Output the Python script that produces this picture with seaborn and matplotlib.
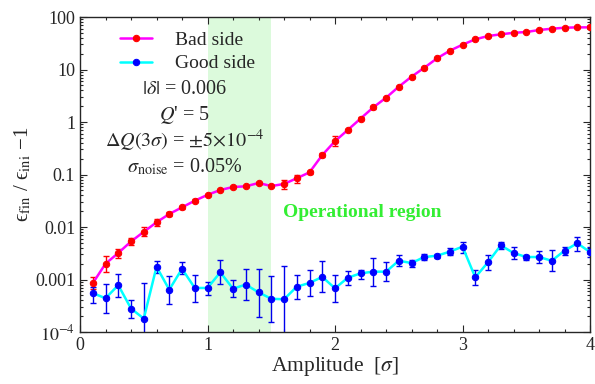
import matplotlib
matplotlib.use('Agg')

import numpy as np
import pandas as pd
import seaborn as sns
import matplotlib.pyplot as plt
from matplotlib.ticker import FixedLocator, LogLocator, MultipleLocator, NullFormatter

# amplitude in units of sigma
amp = [0.1, 0.2, 0.3, 0.4, 0.5, 0.6, 0.7, 0.8, 0.9, 1.0,
       1.1, 1.2, 1.3, 1.4, 1.5, 1.6, 1.7, 1.8, 1.9, 2.0,
       2.1, 2.2, 2.3, 2.4, 2.5, 2.6, 2.7, 2.8, 2.9, 3.0,
       3.1, 3.2, 3.3, 3.4, 3.5, 3.6, 3.7, 3.8, 3.9, 4.0]

bad = [0.00085, 0.0020, 0.0032, 0.0053, 0.0081, 0.0123, 0.0177, 0.0237, 0.0317, 0.041,
       0.0507, 0.0578, 0.0596, 0.0689, 0.0603, 0.066, 0.0848, 0.110, 0.235, 0.432,
       0.705, 1.16, 1.9, 2.9, 4.7, 7.3, 10.8, 16.3, 22.8, 29.7,
       37.6, 43.4, 46.8, 50.0, 51.8, 56.5, 59.8, 62.5, 63.5, 63.5]
bad_lo = [0.00065, 0.0014, 0.0026, 0.0045, 0.0067, 0.0104, 0.0165, 0.0225, 0.0300, 0.0390,
          0.0490, 0.0560, 0.0575, 0.0655, 0.0580, 0.0537, 0.0698, 0.103, 0.215, 0.354,
          0.67, 1.08, 1.80, 2.75, 4.5, 7.0, 10.4, 15.8, 22.1, 28.9,
          36.8, 42.5, 45.9, 49.0, 50.8, 55.4, 58.6, 61.3, 62.2, 62.2]
bad_hi = [0.00113, 0.0028, 0.0038, 0.0063, 0.0099, 0.0140, 0.0190, 0.0250, 0.0335, 0.0430,
          0.0525, 0.0595, 0.0615, 0.0725, 0.0625, 0.0777, 0.0990, 0.117, 0.255, 0.534,
          0.74, 1.24, 2.00, 3.05, 4.9, 7.6, 11.2, 16.8, 23.5, 30.5,
          38.4, 44.3, 47.7, 51.0, 52.8, 57.6, 61.0, 63.7, 64.8, 64.8]

good = [0.00055, 0.00044, 0.00078, 0.00028, 0.00018, 0.00175, 0.00064, 0.0016, 0.00069, 0.00069,
        0.00137, 0.00067, 0.00080, 0.00057, 0.00043, 0.00042, 0.00073, 0.00086, 0.00112, 0.00068,
        0.00108, 0.00131, 0.00141, 0.00141, 0.00228, 0.00206, 0.00268, 0.00284, 0.00339, 0.00422,
        0.0011, 0.00213, 0.00448, 0.0032, 0.00268, 0.00268, 0.00228, 0.00354, 0.0049, 0.00334]
good_lo = [0.00036, 0.000233, 0.00047, 0.000187, 0.00005, 0.00135, 0.00034, 0.00125, 0.00038, 0.00051,
           0.00082, 0.00046, 0.00041, 0.000196, 0.000157, 0.00005, 0.00042, 0.00048, 0.00057, 0.00037,
           0.00079, 0.00104, 0.00076, 0.00092, 0.00181, 0.00176, 0.00232, 0.0026, 0.00293, 0.00324,
           0.0008, 0.00152, 0.00381, 0.00242, 0.00235, 0.00203, 0.00145, 0.00293, 0.00354, 0.0027]
good_hi = [0.00071, 0.00081, 0.00125, 0.0004, 0.00087, 0.00222, 0.00118, 0.00212, 0.00124, 0.0009,
           0.00232, 0.00096, 0.0016, 0.00158, 0.00115, 0.00178, 0.00124, 0.0015, 0.00222, 0.00122,
           0.00147, 0.00154, 0.00253, 0.00212, 0.00288, 0.00239, 0.00306, 0.0031, 0.00393, 0.00518,
           0.00152, 0.00288, 0.00518, 0.00416, 0.00293, 0.00354, 0.0037, 0.00422, 0.00655, 0.0041]

op_region = (1.0, 1.5)
ytick_vals = [1e-4, 1e-3, 1e-2, 1e-1, 1, 10, 100]
ytick_labels = ['$10^{-4}$', '0.001', '0.01', '0.1', '1', '10', '100']
info_lines = [r'$|\delta|$ = 0.006', r"$Q$' = 5",
              r'$\Delta Q(3\sigma)$ = $\pm5{\times}10^{-4}$',
              r'$\sigma_{\rm noise}$ = 0.05%']

sns.set_style('ticks')
plt.rcParams['font.family'] = ['Liberation Serif', 'DejaVu Serif']
plt.rcParams['mathtext.fontset'] = 'stix'

df = pd.DataFrame({'amp': amp, 'bad': bad, 'good': good})

fig = plt.figure(figsize=(5.95, 3.84), dpi=100)
ax = fig.add_axes([0.1345, 0.1354, 0.8571, 0.8203])

ax.axvspan(*op_region, color='#dcfadc', zorder=0, lw=0)

ax.errorbar(amp, bad, yerr=[np.array(bad) - np.array(bad_lo), np.array(bad_hi) - np.array(bad)],
            fmt='none', ecolor='#ff0000', elinewidth=1, capsize=2, zorder=2)
ax.errorbar(amp, good, yerr=[np.array(good) - np.array(good_lo), np.array(good_hi) - np.array(good)],
            fmt='none', ecolor='#0000ee', elinewidth=1, capsize=2, zorder=2)

sns.lineplot(data=df, x='amp', y='bad', ax=ax, color='#ff00ff', lw=1.8, marker='o',
             markersize=4.6, markerfacecolor='#ff0000', markeredgecolor='#ff0000',
             label='Bad side', zorder=3)
sns.lineplot(data=df, x='amp', y='good', ax=ax, color='#00ffff', lw=1.8, marker='o',
             markersize=4.6, markerfacecolor='#0000ff', markeredgecolor='#0000ff',
             label='Good side', zorder=3)

ax.set_yscale('log')
ax.set_xlim(0, 4)
ax.set_ylim(1e-4, 100)
ax.yaxis.set_major_locator(FixedLocator(ytick_vals))
ax.set_yticklabels(ytick_labels)
ax.yaxis.set_minor_locator(LogLocator(base=10, subs=np.arange(2, 10)))
ax.yaxis.set_minor_formatter(NullFormatter())
ax.xaxis.set_major_locator(MultipleLocator(1))
ax.xaxis.set_minor_locator(MultipleLocator(0.2))

ax.tick_params(which='both', direction='in', top=True, right=True, labelsize=13, width=0.8)
ax.tick_params(which='major', length=5)
ax.tick_params(which='minor', length=2.5)
for s in ax.spines.values():
    s.set_linewidth(1)

ax.set_xlabel(r'Amplitude  [$\sigma$]', fontsize=15.5, labelpad=1)
ax.set_ylabel('\u03f5$_{\\rm fin}$ / \u03f5$_{\\rm ini}$ \u22121', fontsize=15, labelpad=1)

leg = ax.legend(loc='upper left', bbox_to_anchor=(0.045, 1.01), frameon=False, fontsize=14,
                handlelength=1.6, handletextpad=1.2, labelspacing=0.3)

for i, t in enumerate(info_lines):
    ax.text(0.205, 0.771 - i * 0.0825, t, transform=ax.transAxes, ha='center', va='center',
            fontsize=14.5)

ax.text(1.59, 0.0185, 'Operational region', color='#33ee33', fontsize=14,
        fontweight='bold', ha='left', va='center')

fig.savefig('out.png', dpi=100)
